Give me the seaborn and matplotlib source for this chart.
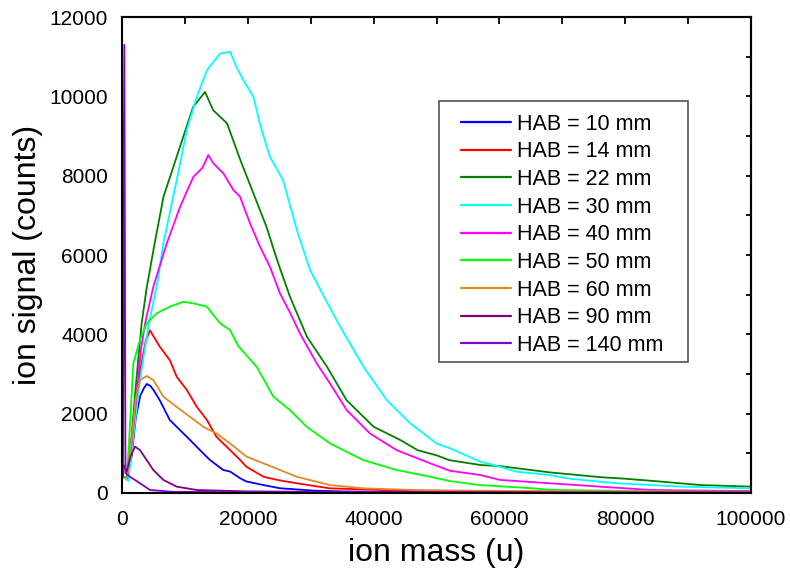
import matplotlib
matplotlib.use("Agg")
import matplotlib.pyplot as plt
from matplotlib.patches import Rectangle
from matplotlib.ticker import MultipleLocator, NullFormatter
import seaborn as sns
import pandas as pd

# ---------------- data ----------------
labels = ["HAB = 10 mm", "HAB = 14 mm", "HAB = 22 mm", "HAB = 30 mm", "HAB = 40 mm",
          "HAB = 50 mm", "HAB = 60 mm", "HAB = 90 mm", "HAB = 140 mm"]
colors = ["#0000FF", "#FF0000", "#008000", "#00FFFF", "#FF00FF",
          "#00FF00", "#E0892A", "#800080", "#8000D0"]

x_10 = [300, 800, 1500, 2200, 2900, 3500, 3950, 4500, 5000, 6000, 7600, 9200, 10800, 12400,
        14000, 16100, 17200, 18800, 19800, 22500, 25100, 30400, 35000, 40000, 50000, 60000,
        70000, 80000, 90000, 100000]
y_10 = [400, 380, 900, 1900, 2450, 2650, 2750, 2700, 2600, 2340, 1840, 1590, 1340, 1080,
        830, 580, 540, 370, 290, 200, 120, 60, 40, 30, 20, 15, 10, 10, 5, 5]

x_14 = [300, 800, 1500, 2200, 3000, 3800, 4450, 5200, 6000, 7600, 8700, 10300, 11900, 13500,
        15000, 17200, 18800, 19800, 22500, 25000, 27800, 33000, 41000, 50000, 60000, 70000,
        80000, 90000, 100000]
y_14 = [400, 380, 1100, 2200, 3200, 3850, 4100, 3900, 3690, 3350, 2930, 2600, 2170, 1840,
        1420, 1080, 830, 660, 410, 320, 245, 118, 76, 50, 40, 30, 25, 20, 15]

x_22 = [300, 800, 1500, 2200, 3100, 3900, 5200, 6600, 8700, 11300, 13200, 14500, 16700, 18800,
        20900, 23000, 24600, 26700, 29400, 32600, 35700, 40000, 44200, 47000, 50000, 52000,
        57000, 60000, 68000, 76000, 80000, 85500, 92000, 100000]
y_22 = [400, 400, 1400, 2700, 4250, 5150, 6300, 7470, 8480, 9730, 10110, 9650, 9320, 8400,
        7550, 6700, 5900, 4950, 3940, 3180, 2340, 1670, 1340, 1080, 950, 830,
        705, 680, 520, 400, 360, 290, 200, 160]

x_30 = [300, 1000, 1800, 2860, 4200, 5700, 6570, 8700, 10300, 11900, 13500, 15600, 17200,
        18200, 19300, 20900, 21900, 23500, 25600, 27800, 29900, 32550, 34700, 38400, 42100,
        45800, 50000, 52150, 57000, 60100, 62750, 68000, 70700, 76000, 78650, 89200, 100000]
y_30 = [400, 300, 1400, 2850, 4200, 5370, 6290, 7890, 9150, 9990, 10660, 11080, 11120,
        10740, 10410, 9990, 9320, 8480, 7890, 6630, 5620, 4820, 4190, 3180, 2340,
        1760, 1250, 1125, 790, 660, 537, 455, 370, 285, 245, 160, 118]

x_40 = [300, 800, 1500, 2200, 3000, 3700, 4980, 7110, 9220, 11340, 12800, 13720, 14520, 16110,
        17700, 18760, 20350, 21940, 23530, 25120, 26700, 28300, 30950, 33070, 35720, 39430,
        43670, 48970, 52150, 56920, 60100, 68050, 76000, 84000, 92000, 100000]
y_40 = [400, 400, 1200, 2300, 3600, 4300, 5200, 6290, 7210, 7970, 8200, 8520, 8310, 8060,
        7640, 7470, 6800, 6210, 5700, 5030, 4550, 4020, 3270, 2760, 2090, 1500,
        1080, 750, 560, 455, 330, 245, 160, 76, 60, 50]

x_50 = [300, 800, 1300, 1800, 2860, 3930, 5520, 7630, 9750, 11340, 13470, 15580, 17170, 18500,
        21420, 24060, 26710, 29360, 33070, 38370, 43670, 48970, 52150, 56920, 65350, 68050,
        84000, 100000]
y_50 = [400, 400, 1800, 3270, 3860, 4280, 4530, 4700, 4820, 4780, 4700, 4280, 4110, 3700,
        3180, 2430, 2090, 1670, 1250, 830, 580, 410, 300, 200, 118, 80, 40, 30]

x_60 = [300, 800, 1500, 2200, 2860, 3930, 4980, 6570, 8700, 10820, 12930, 15050, 17170, 19820,
        22470, 25120, 27780, 33070, 38370, 46330, 55000, 65000, 75000, 85000, 100000]
y_60 = [400, 400, 1300, 2400, 2850, 2950, 2850, 2430, 2170, 1920, 1670, 1500, 1250, 915,
        750, 580, 410, 200, 118, 76, 60, 50, 40, 35, 30]

x_90 = [0, 300, 750, 1300, 2070, 2860, 3930, 4980, 6570, 8700, 11880, 20000, 40000, 60000,
        80000, 100000]
y_90 = [300, 700, 537, 900, 1170, 1080, 830, 580, 330, 160, 76, 40, 20, 15, 10, 10]

x_140 = [0, 150, 380, 550, 1270, 2860, 4450, 8000, 20000, 50000, 100000]
y_140 = [13000, 400, 11300, 500, 410, 245, 76, 30, 20, 15, 10]

xs = [x_10, x_14, x_22, x_30, x_40, x_50, x_60, x_90, x_140]
ys = [y_10, y_14, y_22, y_30, y_40, y_50, y_60, y_90, y_140]

frames = [pd.DataFrame({"mass": x, "signal": y, "HAB": lab}) for x, y, lab in zip(xs, ys, labels)]
df = pd.concat(frames, ignore_index=True)

# ---------------- style ----------------
sns.set_style("white")
plt.rcParams["font.family"] = ["Liberation Sans", "DejaVu Sans"]
plt.rcParams["text.color"] = "black"
plt.rcParams["axes.labelcolor"] = "black"
plt.rcParams["xtick.color"] = "black"
plt.rcParams["ytick.color"] = "black"

fig = plt.figure(figsize=(7.9, 5.74), dpi=100)
ax = fig.add_axes([122 / 790, 1 - 493 / 574, 629 / 790, 476 / 574])

sns.lineplot(data=df, x="mass", y="signal", hue="HAB", hue_order=labels,
             palette=dict(zip(labels, colors)), estimator=None, sort=False,
             linewidth=1.3, legend=False, ax=ax)

ax.set_xlim(0, 100000)
ax.set_ylim(0, 12000)

for sp in ax.spines.values():
    sp.set_linewidth(1.5)
    sp.set_color("black")

ax.xaxis.set_major_locator(MultipleLocator(20000))
ax.xaxis.set_minor_locator(MultipleLocator(10000))
ax.yaxis.set_major_locator(MultipleLocator(2000))
ax.yaxis.set_minor_locator(MultipleLocator(1000))
ax.tick_params(axis="both", which="major", direction="out", length=6, width=1.3,
               labelsize=15, pad=4, top=False, right=False,
               color="black", labelcolor="black")
ax.tick_params(axis="both", which="minor", direction="out", length=3.5, width=1.3,
               top=False, right=False, color="black")
ax.tick_params(axis="x", which="major", pad=6)

# mirrored inward ticks on top and right
top = ax.secondary_xaxis("top")
top.xaxis.set_major_locator(MultipleLocator(10000))
top.xaxis.set_major_formatter(NullFormatter())
top.tick_params(direction="in", length=5, width=1.3, color="black")
top.spines["top"].set_linewidth(1.5)
right = ax.secondary_yaxis("right")
right.yaxis.set_major_locator(MultipleLocator(1000))
right.yaxis.set_major_formatter(NullFormatter())
right.tick_params(direction="in", length=3.5, width=1.3, color="black")
right.spines["right"].set_linewidth(1.5)

ax.set_xlabel("ion mass (u)", fontsize=23, labelpad=7, color="black")
ax.set_ylabel("ion signal (counts)", fontsize=23, labelpad=5, color="black")

# legend
handles = ax.get_lines()[:len(labels)]
leg = ax.legend(handles, labels, loc="upper left", bbox_to_anchor=(0.539, 0.797),
                frameon=False, fontsize=15.5, borderpad=0, borderaxespad=0,
                handlelength=2.32, handletextpad=0.28, labelspacing=0.31)
for t in leg.get_texts():
    t.set_color("black")
for h in leg.get_lines():
    h.set_linewidth(1.6)
ax.add_patch(Rectangle((0.504, 0.2752), 0.396, 0.548, transform=ax.transAxes,
                       fill=False, edgecolor="#555555", linewidth=1.2, zorder=5))

fig.savefig("out.png", dpi=100)
